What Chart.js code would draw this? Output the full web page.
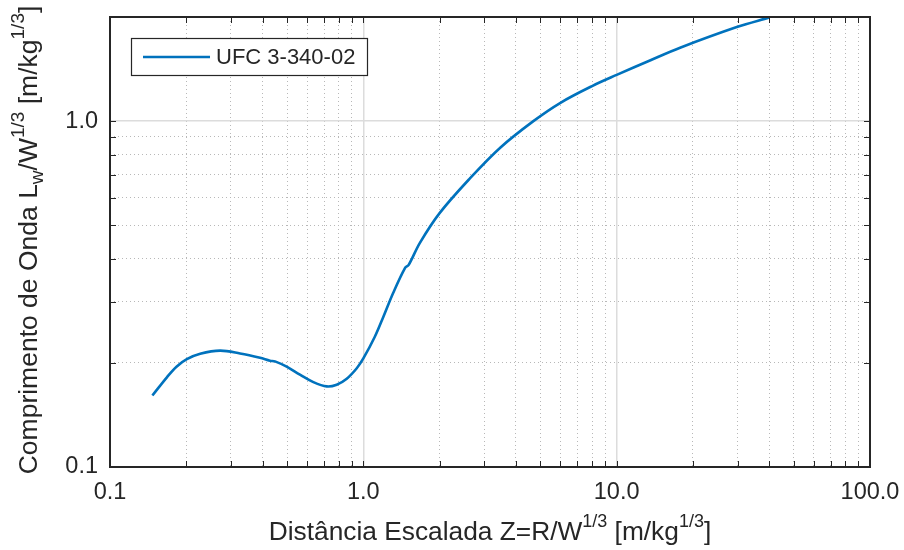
<!DOCTYPE html>
<html>
<head>
<meta charset="utf-8">
<script src="https://cdn.jsdelivr.net/npm/chart.js@4"></script>
<style>
  html, body { margin: 0; padding: 0; background: #fff; }
  #wrap { width: 904px; height: 550px; }
</style>
</head>
<body>
<div id="wrap"><canvas id="chart" width="904" height="550"></canvas></div>
<script>
// scaled distance Z (m/kg^1/3) and wavelength Lw/W^1/3
const zValues = [0.147, 0.168, 0.183, 0.201, 0.227, 0.272, 0.326, 0.391, 0.428, 0.448,
                 0.498, 0.562, 0.635, 0.717, 0.785, 0.86, 0.942, 1.0, 1.11, 1.2,
                 1.31, 1.46, 1.51, 1.67, 2.0, 2.64, 3.47, 4.69, 6.0,
                 8.0, 10.0, 13.6, 17.8, 29.8, 40.0];
const lwValues = [0.161, 0.182, 0.195, 0.205, 0.2125, 0.217, 0.213, 0.207, 0.203, 0.202,
                  0.195, 0.185, 0.176, 0.171, 0.173, 0.180, 0.193, 0.206, 0.238, 0.272,
                  0.318, 0.376, 0.384, 0.444, 0.542, 0.684, 0.838, 1.0, 1.13,
                  1.263, 1.36, 1.50, 1.63, 1.87, 1.994];
const seriesLabel = 'UFC 3-340-02';

// axis ranges and the decade labels
const xRange = [0.1, 100];
const yRange = [0.1, 2];
const xTickLabels = ['0.1', '1.0', '10.0', '100.0'];
const yTickLabels = ['0.1', '1.0'];

const FONT = "'Liberation Sans', Arial, Helvetica, sans-serif";
const TEXT = '#262626';
const BLUE = '#0072BD';

// log ticks 1..9 per decade, decades flagged major
function logTicks(min, max) {
  const out = [];
  for (let d = min; d < max * 1.0001; d *= 10) {
    for (let k = 1; k <= 9; k++) {
      const v = +(k * d).toPrecision(6);
      if (v > max * 1.0001) break;
      out.push({ value: v, major: k === 1 });
    }
  }
  return out;
}

function decadeLabel(labels, min) {
  return function (value) {
    const i = Math.round(Math.log10(value / min));
    const isDecade = Math.abs(Math.log10(value / min) - i) < 1e-6;
    return isDecade && labels[i] !== undefined ? labels[i] : '';
  };
}

const gridColor = ctx => (ctx.tick && ctx.tick.major) ? '#dcdcdc' : '#b8b8b8';
const gridWidth = ctx => (ctx.tick && ctx.tick.major) ? 1.5 : 1;
const gridDash = ctx => (ctx.tick && ctx.tick.major) ? [] : [1, 3];

// draws text runs with super/subscripts, centred on (0,0) of the current transform
function drawRich(ctx, runs, size) {
  const small = Math.round(size * 0.7);
  let total = 0;
  runs.forEach(r => {
    ctx.font = (r.s ? small : size) + 'px ' + FONT;
    r.w = ctx.measureText(r.t).width;
    total += r.w;
  });
  let x = -total / 2;
  ctx.textBaseline = 'alphabetic';
  ctx.textAlign = 'left';
  runs.forEach(r => {
    ctx.font = (r.s ? small : size) + 'px ' + FONT;
    const dy = r.s === 'sup' ? -size * 0.5 : r.s === 'sub' ? size * 0.22 : 0;
    ctx.fillText(r.t, x, dy);
    x += r.w;
  });
}

const axesFrame = {
  id: 'axesFrame',
  afterDraw(chart) {
    const { ctx, chartArea: a, scales } = chart;
    const tl = 6;
    ctx.save();
    ctx.strokeStyle = TEXT;
    ctx.lineWidth = 1;
    ctx.beginPath();
    scales.x.ticks.forEach(t => {
      const px = Math.round(scales.x.getPixelForValue(t.value)) + 0.5;
      ctx.moveTo(px, a.bottom); ctx.lineTo(px, a.bottom - tl);
      ctx.moveTo(px, a.top); ctx.lineTo(px, a.top + tl);
    });
    scales.y.ticks.forEach(t => {
      const py = Math.round(scales.y.getPixelForValue(t.value)) + 0.5;
      ctx.moveTo(a.left, py); ctx.lineTo(a.left + tl, py);
      ctx.moveTo(a.right, py); ctx.lineTo(a.right - tl, py);
    });
    ctx.stroke();

    ctx.lineWidth = 2;
    ctx.strokeRect(a.left, a.top, a.right - a.left, a.bottom - a.top);

    // legend
    const lx = 131, ly = 38, lw = 236, lh = 37;
    ctx.fillStyle = '#fff';
    ctx.fillRect(lx, ly, lw, lh);
    ctx.lineWidth = 1.2;
    ctx.strokeStyle = TEXT;
    ctx.strokeRect(lx + 0.5, ly + 0.5, lw, lh);
    ctx.strokeStyle = BLUE;
    ctx.lineWidth = 2.5;
    ctx.beginPath();
    ctx.moveTo(143, 57); ctx.lineTo(210, 57);
    ctx.stroke();
    ctx.fillStyle = TEXT;
    ctx.font = '22px ' + FONT;
    ctx.textAlign = 'left';
    ctx.textBaseline = 'middle';
    ctx.fillText(chart.data.datasets[0].label, 216, 58);

    // axis titles
    ctx.fillStyle = TEXT;
    ctx.save();
    ctx.translate((a.left + a.right) / 2, 540);
    drawRich(ctx, [
      { t: 'Distância Escalada Z=R/W' }, { t: '1/3', s: 'sup' },
      { t: ' [m/kg' }, { t: '1/3', s: 'sup' }, { t: ']' }
    ], 26.3);
    ctx.restore();

    ctx.save();
    ctx.translate(37, 240);
    ctx.rotate(-Math.PI / 2);
    drawRich(ctx, [
      { t: 'Comprimento de Onda L' }, { t: 'w', s: 'sub' }, { t: '/W' },
      { t: '1/3', s: 'sup' }, { t: ' [m/kg' }, { t: '1/3', s: 'sup' }, { t: ']' }
    ], 26.5);
    ctx.restore();
    ctx.restore();
  }
};

new Chart(document.getElementById('chart'), {
  type: 'line',
  data: {
    datasets: [{
      label: seriesLabel,
      data: zValues.map((z, i) => ({ x: z, y: lwValues[i] })),
      borderColor: BLUE,
      borderWidth: 2.6,
      pointRadius: 0,
      fill: false,
      tension: 0.35
    }]
  },
  options: {
    responsive: false,
    animation: false,
    layout: { padding: { top: 17, right: 34, left: 0, bottom: 0 } },
    plugins: { legend: { display: false }, tooltip: { enabled: false } },
    scales: {
      x: {
        type: 'logarithmic',
        min: xRange[0], max: xRange[1],
        afterBuildTicks: s => { s.ticks = logTicks(xRange[0], xRange[1]); },
        afterFit: s => { s.height = 83; s.paddingLeft = 0; s.paddingRight = 0; },
        ticks: {
          autoSkip: false, maxRotation: 0, padding: 11,
          color: TEXT, font: { family: FONT, size: 23.5 },
          callback: decadeLabel(xTickLabels, xRange[0])
        },
        grid: { color: gridColor, lineWidth: gridWidth, drawTicks: false },
        border: { display: false, dash: gridDash }
      },
      y: {
        type: 'logarithmic',
        min: yRange[0], max: yRange[1],
        afterBuildTicks: s => { s.ticks = logTicks(yRange[0], yRange[1]); },
        afterFit: s => { s.width = 110; s.paddingTop = 0; s.paddingBottom = 0; },
        ticks: {
          autoSkip: false, padding: 12,
          color: TEXT, font: { family: FONT, size: 23.5 },
          callback: decadeLabel(yTickLabels, yRange[0])
        },
        grid: { color: gridColor, lineWidth: gridWidth, drawTicks: false },
        border: { display: false, dash: gridDash }
      }
    }
  },
  plugins: [axesFrame]
});
</script>
</body>
</html>
